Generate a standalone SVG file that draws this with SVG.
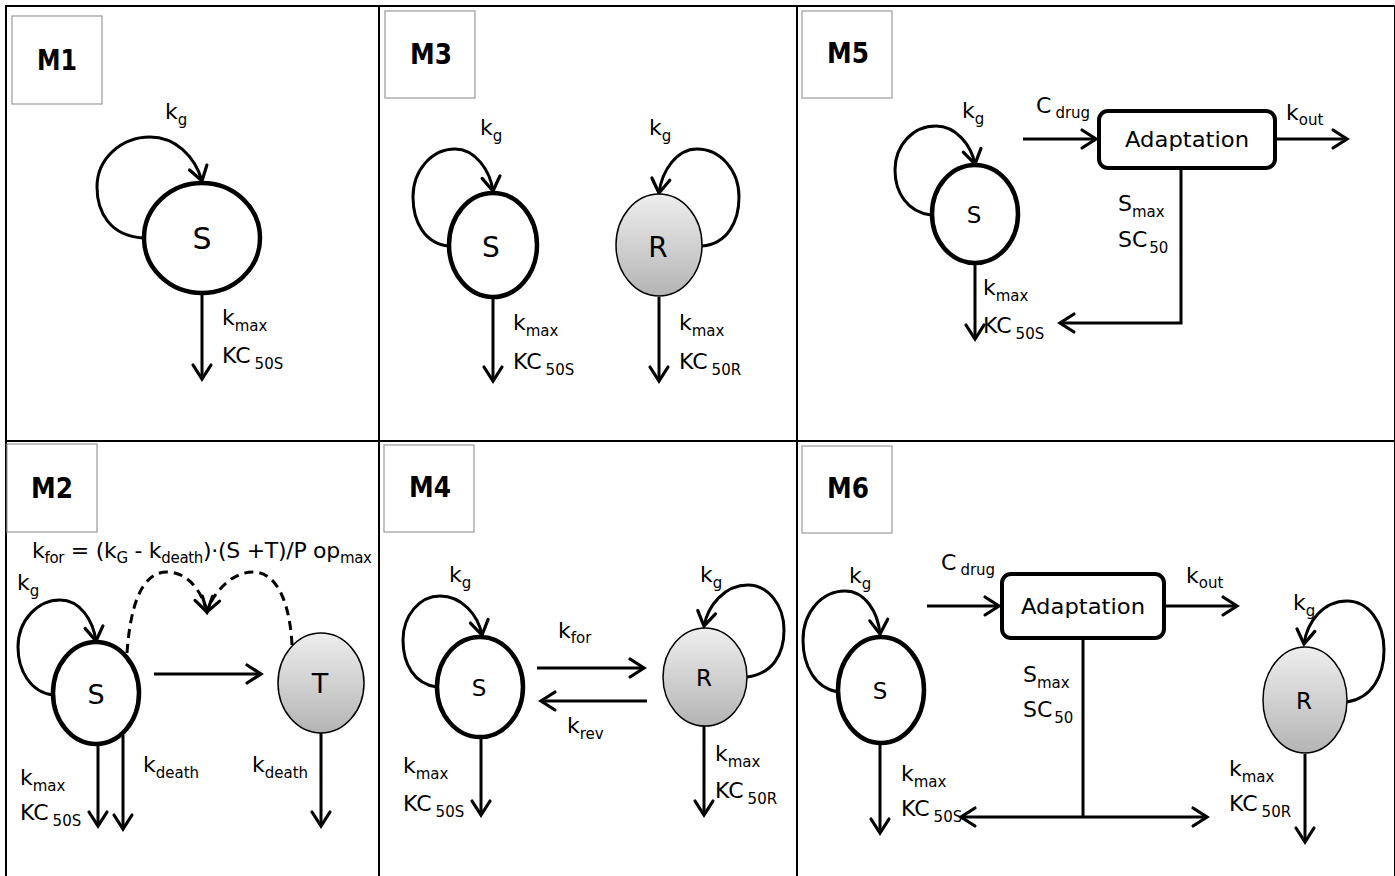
<svg xmlns="http://www.w3.org/2000/svg" width="1395" height="876" viewBox="0 0 1395 876">
<defs>
<linearGradient id="g" x1="0" y1="0" x2="0" y2="1">
<stop offset="0" stop-color="#eeeeee"/>
<stop offset="1" stop-color="#b4b4b4"/>
</linearGradient>
<marker id="ah" markerUnits="userSpaceOnUse" markerWidth="40" markerHeight="40" viewBox="-20 -20 40 40" refX="0" refY="0" orient="auto" overflow="visible">
<path d="M-14,-9 L0,0 L-14,9" fill="none" stroke="#000" stroke-width="3.2" stroke-linecap="round" stroke-linejoin="miter"/>
</marker>
<style>
.t{font-family:"DejaVu Sans","Liberation Sans",sans-serif;font-size:22px;fill:#000}
.s{font-size:15px}
.tag{font-family:"DejaVu Sans","Liberation Sans",sans-serif;font-weight:bold;font-size:28px;text-anchor:middle;fill:#000}
.node{font-family:"DejaVu Sans","Liberation Sans",sans-serif;text-anchor:middle;fill:#000}
.n30{font-size:30px}
.n28{font-size:28px}
.n27{font-size:27px}
.n23{font-size:23px}
.n22{font-size:22px}
.ns{fill:#fff;stroke:#000;stroke-width:4.5}
.nr{fill:url(#g);stroke:#000;stroke-width:1.5}
.e{fill:none;stroke:#000;stroke-width:3;marker-end:url(#ah)}
.l{fill:none;stroke:#000;stroke-width:3}
.d{fill:none;stroke:#000;stroke-width:3;stroke-dasharray:9 6;marker-end:url(#ah)}
.tb{fill:#fff;stroke:#999;stroke-width:1.2}
.frame{fill:none;stroke:#000;stroke-width:2}
</style>
</defs>
<rect width="1395" height="876" fill="#fff"/>
<g id="frame">
<rect class="frame" x="6" y="6" width="1389" height="872"/>
<line class="frame" x1="379" y1="6" x2="379" y2="876"/>
<line class="frame" x1="797" y1="6" x2="797" y2="876"/>
<line class="frame" x1="6" y1="441" x2="1395" y2="441"/>
</g>
<g id="tags">
<g id="tag-M1"><rect class="tb" x="12" y="16" width="90" height="88"/><text class="tag" x="57" y="70" textLength="40" lengthAdjust="spacingAndGlyphs">M1</text></g>
<g id="tag-M3"><rect class="tb" x="385" y="11" width="90" height="87"/><text class="tag" x="431" y="64" textLength="42" lengthAdjust="spacingAndGlyphs">M3</text></g>
<g id="tag-M5"><rect class="tb" x="802" y="11" width="90" height="87"/><text class="tag" x="848" y="63" textLength="42" lengthAdjust="spacingAndGlyphs">M5</text></g>
<g id="tag-M2"><rect class="tb" x="7" y="444" width="90" height="88"/><text class="tag" x="52" y="498" textLength="42" lengthAdjust="spacingAndGlyphs">M2</text></g>
<g id="tag-M4"><rect class="tb" x="384" y="445" width="90" height="87"/><text class="tag" x="430" y="497" textLength="42" lengthAdjust="spacingAndGlyphs">M4</text></g>
<g id="tag-M6"><rect class="tb" x="802" y="446" width="90" height="87"/><text class="tag" x="848" y="498" textLength="42" lengthAdjust="spacingAndGlyphs">M6</text></g>
</g>
<g id="connectors">
<path class="e" d="M143,238 C110,236 97,212 97,187 C97,158 122,137 150,137 C175,137 195,156 202,181"/>
<line class="e" x1="202" y1="293" x2="202" y2="379"/>
<path class="e" d="M449,246 C425,244 413,222 413,197 C413,170 432,149 455,149 C475,149 490,170 493,191"/>
<line class="e" x1="493" y1="298" x2="493" y2="381"/>
<path class="e" d="M702,246 C727,244 739,222 739,197 C739,170 720,149 697,149 C677,149 662,170 659,193"/>
<line class="e" x1="659" y1="297" x2="659" y2="381"/>
<path class="e" d="M931,215 C907,212 895,192 895,170 C895,145 913,126 936,126 C956,126 971,145 975,164"/>
<line class="e" x1="975" y1="263" x2="975" y2="339"/>
<line class="e" x1="1023" y1="139" x2="1096" y2="139"/>
<line class="e" x1="1275" y1="139" x2="1347" y2="139"/>
<path class="e" d="M1181,168 L1181,323 L1060,323"/>
<path class="e" d="M53,695 C30,692 18,670 18,647 C18,620 38,600 60,600 C80,600 93,620 96,641"/>
<path class="d" d="M127,653 C130,610 140,572 167,572 C190,572 203,595 207,612"/>
<path class="d" d="M292,645 C290,605 278,572 253,572 C230,572 212,595 207,612"/>
<line class="e" x1="154" y1="674" x2="261" y2="674"/>
<line class="e" x1="321" y1="733" x2="321" y2="826"/>
<line class="e" x1="98" y1="744" x2="98" y2="826"/>
<line class="e" x1="123" y1="735" x2="123" y2="829"/>
<path class="e" d="M437,687 C414,684 403,664 403,640 C403,615 420,596 440,596 C462,596 478,615 482,635"/>
<path class="e" d="M747,677 C772,674 784,655 784,630 C784,605 768,585 748,585 C725,585 708,605 704,626"/>
<line class="e" x1="537" y1="668" x2="644" y2="668"/>
<line class="e" x1="647" y1="701" x2="541" y2="701"/>
<line class="e" x1="481" y1="737" x2="481" y2="815"/>
<line class="e" x1="704" y1="726" x2="704" y2="815"/>
<path class="e" d="M838,692 C815,688 803,666 803,640 C803,612 822,591 845,591 C865,591 878,612 880,634"/>
<path class="e" d="M1347,702 C1372,698 1384,676 1384,650 C1384,622 1368,601 1347,601 C1323,601 1307,622 1304,644"/>
<line class="e" x1="880" y1="743" x2="880" y2="833"/>
<line class="e" x1="1305" y1="754" x2="1305" y2="842"/>
<line class="e" x1="927" y1="606" x2="999" y2="606"/>
<line class="e" x1="1164" y1="606" x2="1237" y2="606"/>
<line class="l" x1="1083" y1="639" x2="1083" y2="817"/>
<line class="e" x1="1083" y1="817" x2="961" y2="817"/>
<line class="e" x1="1083" y1="817" x2="1207" y2="817"/>
</g>
<g id="M1-S"><ellipse class="ns" cx="202" cy="238" rx="58" ry="55"/><text class="node n30" x="202" y="249">S</text></g>
<g id="M3-S"><ellipse class="ns" cx="493" cy="245" rx="44" ry="52"/><text class="node n28" x="491" y="257">S</text></g>
<g id="M3-R"><ellipse class="nr" cx="659" cy="245" rx="43" ry="51"/><text class="node n28" x="658" y="257">R</text></g>
<g id="M5-S"><ellipse class="ns" cx="975" cy="214" rx="43" ry="49"/><text class="node n23" x="974" y="223">S</text></g>
<g id="M5-A"><rect x="1099" y="111" width="176" height="57" rx="9" fill="#fff" stroke="#000" stroke-width="4"/><text class="node n22" x="1187" y="147" textLength="124" lengthAdjust="spacingAndGlyphs">Adaptation</text></g>
<g id="M2-S"><ellipse class="ns" cx="96" cy="693" rx="43" ry="51"/><text class="node n27" x="96" y="704">S</text></g>
<g id="M2-T"><ellipse class="nr" cx="321" cy="683" rx="43" ry="50"/><text class="node n27" x="320" y="693">T</text></g>
<g id="M4-S"><ellipse class="ns" cx="480" cy="687" rx="43" ry="50"/><text class="node n23" x="479" y="696">S</text></g>
<g id="M4-R"><ellipse class="nr" cx="705" cy="677" rx="42" ry="49"/><text class="node n23" x="704" y="686">R</text></g>
<g id="M6-S"><ellipse class="ns" cx="881" cy="690" rx="43" ry="53"/><text class="node n23" x="880" y="699">S</text></g>
<g id="M6-A"><rect x="1002" y="574" width="162" height="64" rx="9" fill="#fff" stroke="#000" stroke-width="4"/><text class="node n22" x="1083" y="614" textLength="124" lengthAdjust="spacingAndGlyphs">Adaptation</text></g>
<g id="M6-R"><ellipse class="nr" cx="1305" cy="700" rx="42" ry="53"/><text class="node n23" x="1304" y="709">R</text></g>
<g id="labels">
<text class="t" x="165" y="119">k<tspan class="s" dy="6">g</tspan></text>
<text class="t" x="222" y="325">k<tspan class="s" dy="6">max</tspan></text>
<text class="t" x="222" y="363">KC<tspan class="s" dx="4" dy="6">50S</tspan></text>
<text class="t" x="480" y="135">k<tspan class="s" dy="6">g</tspan></text>
<text class="t" x="649" y="135">k<tspan class="s" dy="6">g</tspan></text>
<text class="t" x="513" y="330">k<tspan class="s" dy="6">max</tspan></text>
<text class="t" x="513" y="369">KC<tspan class="s" dx="4" dy="6">50S</tspan></text>
<text class="t" x="679" y="330">k<tspan class="s" dy="6">max</tspan></text>
<text class="t" x="679" y="369">KC<tspan class="s" dx="4" dy="6">50R</tspan></text>
<text class="t" x="962" y="118">k<tspan class="s" dy="6">g</tspan></text>
<text class="t" x="1036" y="113">C<tspan class="s" dx="4" dy="5">drug</tspan></text>
<text class="t" x="1286" y="120">k<tspan class="s" dy="5">out</tspan></text>
<text class="t" x="1118" y="211">S<tspan class="s" dy="6">max</tspan></text>
<text class="t" x="1118" y="247">SC<tspan class="s" dx="2" dy="6">50</tspan></text>
<text class="t" x="983" y="295">k<tspan class="s" dy="6">max</tspan></text>
<text class="t" x="983" y="333">KC<tspan class="s" dx="4" dy="6">50S</tspan></text>
<text class="t" x="32" y="558" textLength="340" lengthAdjust="spacing">k<tspan class="s" dy="5">for</tspan><tspan dy="-5"> = (k</tspan><tspan class="s" dy="5">G</tspan><tspan dy="-5"> - k</tspan><tspan class="s" dy="5">death</tspan><tspan dy="-5">)·(S +T)/P op</tspan><tspan class="s" dy="5">max</tspan></text>
<text class="t" x="17" y="590">k<tspan class="s" dy="6">g</tspan></text>
<text class="t" x="143" y="772">k<tspan class="s" dy="6">death</tspan></text>
<text class="t" x="252" y="772">k<tspan class="s" dy="6">death</tspan></text>
<text class="t" x="20" y="785">k<tspan class="s" dy="6">max</tspan></text>
<text class="t" x="20" y="820">KC<tspan class="s" dx="4" dy="6">50S</tspan></text>
<text class="t" x="449" y="582">k<tspan class="s" dy="6">g</tspan></text>
<text class="t" x="700" y="582">k<tspan class="s" dy="6">g</tspan></text>
<text class="t" x="558" y="638">k<tspan class="s" dy="5">for</tspan></text>
<text class="t" x="567" y="733">k<tspan class="s" dy="6">rev</tspan></text>
<text class="t" x="403" y="773">k<tspan class="s" dy="6">max</tspan></text>
<text class="t" x="403" y="811">KC<tspan class="s" dx="4" dy="6">50S</tspan></text>
<text class="t" x="715" y="761">k<tspan class="s" dy="6">max</tspan></text>
<text class="t" x="715" y="798">KC<tspan class="s" dx="4" dy="6">50R</tspan></text>
<text class="t" x="849" y="583">k<tspan class="s" dy="6">g</tspan></text>
<text class="t" x="941" y="570">C<tspan class="s" dx="4" dy="5">drug</tspan></text>
<text class="t" x="1186" y="583">k<tspan class="s" dy="5">out</tspan></text>
<text class="t" x="1023" y="682">S<tspan class="s" dy="6">max</tspan></text>
<text class="t" x="1023" y="717">SC<tspan class="s" dx="2" dy="6">50</tspan></text>
<text class="t" x="1293" y="610">k<tspan class="s" dy="6">g</tspan></text>
<text class="t" x="901" y="781">k<tspan class="s" dy="6">max</tspan></text>
<text class="t" x="901" y="816">KC<tspan class="s" dx="4" dy="6">50S</tspan></text>
<text class="t" x="1229" y="776">k<tspan class="s" dy="6">max</tspan></text>
<text class="t" x="1229" y="811">KC<tspan class="s" dx="4" dy="6">50R</tspan></text>
</g>
</svg>
